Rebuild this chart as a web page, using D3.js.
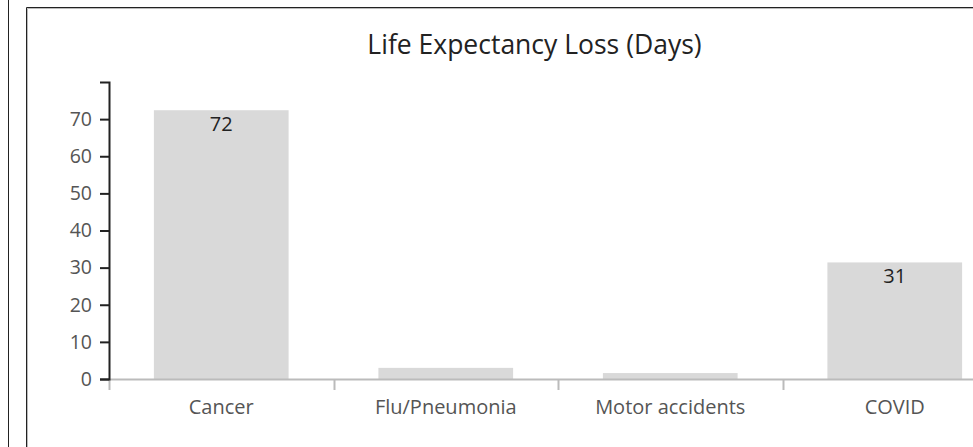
<!DOCTYPE html>
<html>
<head>
<meta charset="utf-8">
<script src="https://cdn.jsdelivr.net/npm/d3@7"></script>
<style>
  html, body { margin: 0; padding: 0; background: #fff; }
  svg { display: block; font-family: "Open Sans", "Noto Sans", sans-serif; }
</style>
</head>
<body>
<div id="chart"></div>
<script>
//// Data
const categories = ["Cancer", "Flu/Pneumonia", "Motor accidents", "COVID"]
const values = [72.4, 3, 1.6, 31.4]
const y_ticks = [0, 10, 20, 30, 40, 50, 60, 70]
const title = "Life Expectancy Loss (Days)"

//// Dimensions
const width = 973, height = 447
const plot = {left: 109, top: 82, bottom: 379, step: 224.5}
const BAR_COLOR = "#d9d9d9"
const TEXT_COLOR = "#555"
const FONT = "\"Open Sans\", \"Noto Sans\", sans-serif"

const svg = d3.select("#chart")
    .append("svg")
        .attr("width", width)
        .attr("height", height)

// Page frame lines
svg.append("line")
    .attr("x1", 8.5).attr("x2", 8.5).attr("y1", 0).attr("y2", height)
    .attr("stroke", "#222")
svg.append("path")
    .attr("d", "M26.5," + height + "V7.5H" + width)
    .attr("fill", "none").attr("stroke", "#222")
svg.append("path")
    .attr("d", "M27.5," + height + "V8.5H" + width)
    .attr("fill", "none").attr("stroke", "#bbb")

// Title
svg.append("text")
    .attr("x", 534.5)
    .attr("y", 54)
    .attr("text-anchor", "middle")
    .style("font-size", "26.5px")
    .style("fill", "#222")
    .text(title)

// Scales
var x = d3.scaleBand()
    .domain(categories)
    .range([plot.left, plot.left + plot.step * categories.length])
    .padding(0)

var y = d3.scaleLinear()
    .domain([0, 80])
    .range([plot.bottom, plot.top])

// Bars
var bar_inset = x.bandwidth() * 0.2
svg.append("g")
    .selectAll("rect")
        .data(values)
        .enter()
        .append("rect")
            .attr("x", (d, i) => x(categories[i]) + bar_inset)
            .attr("width", x.bandwidth() - 2 * bar_inset)
            .attr("y", d => y(d))
            .attr("height", d => y(0) - y(d))
            .style("fill", BAR_COLOR)

// Value labels inside the taller bars
svg.append("g")
    .selectAll("text")
        .data(values.filter(d => d > 10))
        .enter()
        .append("text")
            .attr("x", d => x(categories[values.indexOf(d)]) + x.bandwidth() / 2)
            .attr("y", d => y(d) + 21)
            .attr("text-anchor", "middle")
            .style("font-size", "20px")
            .style("fill", "#222")
            .text(d => d3.format(".0f")(d))

// X axis: gray baseline with ticks at band boundaries
var x_axis = svg.append("g")
    .attr("transform", "translate(0," + plot.bottom + ")")
    .call(d3.axisBottom(x).tickSize(0).tickPadding(21))
    .attr("font-family", FONT)
    .attr("font-size", 20)
x_axis.select(".domain").remove()
x_axis.selectAll("text")
    .style("fill", TEXT_COLOR)
x_axis.append("line")
    .attr("x1", plot.left).attr("x2", plot.left + plot.step * categories.length)
    .attr("y1", 0.5).attr("y2", 0.5)
    .attr("stroke", "#bbb").attr("stroke-width", 2)
x_axis.selectAll(".boundary")
    .data(categories)
    .enter()
    .append("line")
        .attr("class", "boundary")
        .attr("x1", d => Math.round(x(d)) + 0.5)
        .attr("x2", d => Math.round(x(d)) + 0.5)
        .attr("y1", 0).attr("y2", 11)
        .attr("stroke", "#bbb").attr("stroke-width", 2)

// Y axis
var y_axis = svg.append("g")
    .attr("transform", "translate(" + plot.left + ",0)")
    .call(d3.axisLeft(y).tickValues(y_ticks).tickSize(9).tickPadding(8))
    .attr("font-family", FONT)
    .attr("font-size", 19.5)
y_axis.select(".domain").attr("stroke", "#222").attr("stroke-width", 2)
y_axis.selectAll(".tick line").attr("stroke", "#222").attr("stroke-width", 2)
y_axis.selectAll("text")
    .style("fill", TEXT_COLOR)
</script>
</body>
</html>
